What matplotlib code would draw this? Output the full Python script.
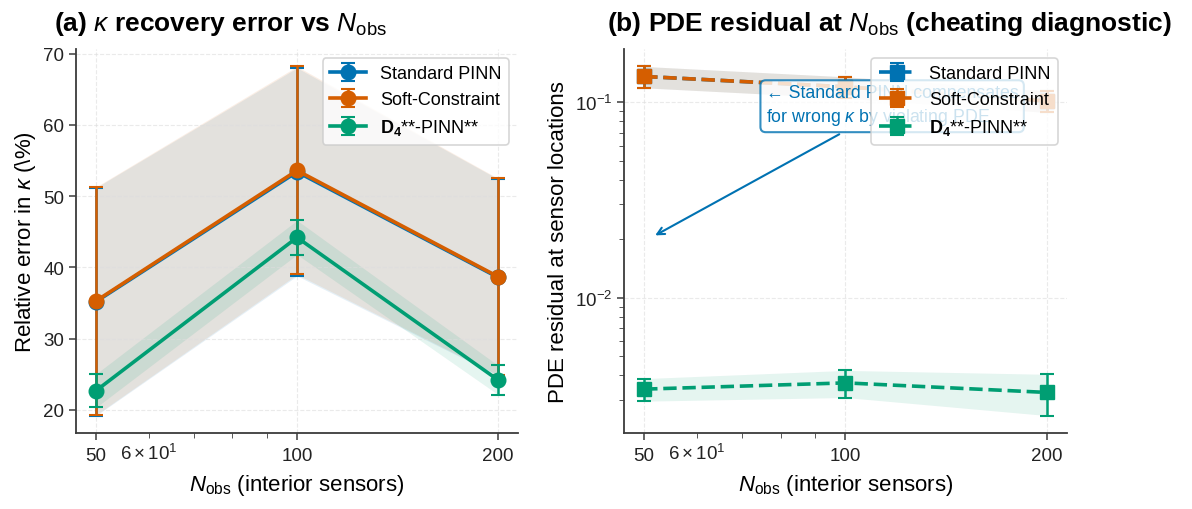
import matplotlib
matplotlib.use("Agg")
import matplotlib.pyplot as plt
import numpy as np

plt.rcParams['font.family'] = ['Liberation Sans', 'DejaVu Sans']
plt.rcParams['mathtext.fontset'] = 'custom'
plt.rcParams['mathtext.rm'] = 'Liberation Sans'
plt.rcParams['mathtext.it'] = 'Liberation Sans:italic'
plt.rcParams['mathtext.bf'] = 'Liberation Sans:bold'
plt.rcParams['axes.edgecolor'] = '#3c3c3c'
plt.rcParams['axes.linewidth'] = 1.3
plt.rcParams['xtick.color'] = '#3c3c3c'
plt.rcParams['ytick.color'] = '#3c3c3c'
plt.rcParams['xtick.labelcolor'] = '#222222'
plt.rcParams['ytick.labelcolor'] = '#222222'
plt.rcParams['xtick.major.size'] = 5
plt.rcParams['ytick.major.size'] = 5
plt.rcParams['xtick.minor.size'] = 3.5
plt.rcParams['ytick.minor.size'] = 3.5
plt.rcParams['xtick.major.width'] = 1.1
plt.rcParams['ytick.major.width'] = 1.1
plt.rcParams['xtick.major.pad'] = 5
plt.rcParams['xtick.labelsize'] = 13.5
plt.rcParams['ytick.labelsize'] = 13.5
plt.rcParams['axes.labelsize'] = 16

# ---- data ----
n_obs = [50, 100, 200]
methods = ["Standard PINN", "Soft-Constraint", r"$\mathbf{D_4}$**-PINN**"]
colors = ["#0072B2", "#D55E00", "#009E73"]

# kappa relative error (%)
kappa_err_std_pinn = [35.2, 53.4, 38.6]
kappa_sd_std_pinn = [16.0, 14.6, 13.8]
kappa_err_soft = [35.3, 53.6, 38.7]
kappa_sd_soft = [16.0, 14.6, 13.8]
kappa_err_d4 = [22.7, 44.2, 24.2]
kappa_sd_d4 = [2.35, 2.4, 2.05]

# PDE residual at sensor locations
res_std_pinn = [0.1356, 0.1200, 0.1015]
res_sd_std_pinn = [0.0170, 0.0150, 0.0128]
res_soft = [0.1356, 0.1200, 0.1015]
res_sd_soft = [0.0170, 0.0150, 0.0128]
res_d4 = [0.00340, 0.00366, 0.00327]
res_sd_d4 = [0.00045, 0.00058, 0.00078]

kappa_mean = [kappa_err_std_pinn, kappa_err_soft, kappa_err_d4]
kappa_sd = [kappa_sd_std_pinn, kappa_sd_soft, kappa_sd_d4]
res_mean = [res_std_pinn, res_soft, res_d4]
res_sd = [res_sd_std_pinn, res_sd_soft, res_sd_d4]

fig = plt.figure(figsize=(11.92, 5.10), dpi=100)
ax1 = fig.add_axes([0.0638, 0.149, 0.3708, 0.753])
ax2 = fig.add_axes([0.5235, 0.149, 0.3716, 0.753])

x = np.array(n_obs)

# (a) kappa recovery error
for name, c, m, s in zip(methods, colors, kappa_mean, kappa_sd):
    m = np.array(m)
    s = np.array(s)
    ax1.errorbar(x, m, yerr=s, marker='o', ms=10.5, lw=2.6, color=c,
                 capsize=5, elinewidth=1.8, capthick=1.5, label=name)
    ax1.fill_between(x, m - s, m + s, color=c, alpha=0.1, lw=0)

# (b) PDE residual
for name, c, m, s in zip(methods, colors, res_mean, res_sd):
    m = np.array(m)
    s = np.array(s)
    ax2.errorbar(x, m, yerr=s, marker='s', ms=10.5, lw=2.6, ls='--', color=c,
                 capsize=5, elinewidth=1.8, capthick=1.5, label=name)
    ax2.fill_between(x, m - s, m + s, color=c, alpha=0.1, lw=0)
ax2.set_yscale('log')

for ax in (ax1, ax2):
    ax.set_xscale('log')
    ax.set_xticks(n_obs, [str(v) for v in n_obs])
    ax.spines['top'].set_visible(False)
    ax.spines['right'].set_visible(False)
    ax.grid(True, which='major', ls='--', lw=0.8, color='#dddddd', alpha=0.6)
    ax.set_xlabel(r"$N_{\mathrm{obs}}$ (interior sensors)", labelpad=6)
    leg = ax.legend(loc='upper right', fontsize=13, framealpha=0.8,
                    edgecolor='#cccccc', fancybox=True)
    leg.get_frame().set_linewidth(1.2)

ax1.set_ylabel(r"Relative error in $\kappa$ ($\backslash$%)")
ax2.set_ylabel("PDE residual at sensor locations")

ax1.set_title(r"(a) $\kappa$ recovery error vs $N_{\mathrm{obs}}$",
              fontsize=19, fontweight='bold', x=0.326, pad=14)
ax2.set_title(r"(b) PDE residual at $N_{\mathrm{obs}}$ (cheating diagnostic)",
              fontsize=19, fontweight='bold', x=0.6, pad=14)

ax2.annotate("\u2190 Standard PINN compensates\nfor wrong $\\kappa$ by violating PDE",
             xy=(51.5, 0.0205), xytext=(76, 0.0966),
             ha='left', va='center', fontsize=12.8, color="#0072B2",
             linespacing=1.35,
             bbox=dict(boxstyle='round,pad=0.3', fc='white', ec="#0072B2", alpha=0.8, lw=1.5),
             arrowprops=dict(arrowstyle='->', color="#0072B2", lw=1.5))

fig.savefig("out.png", dpi=100)
